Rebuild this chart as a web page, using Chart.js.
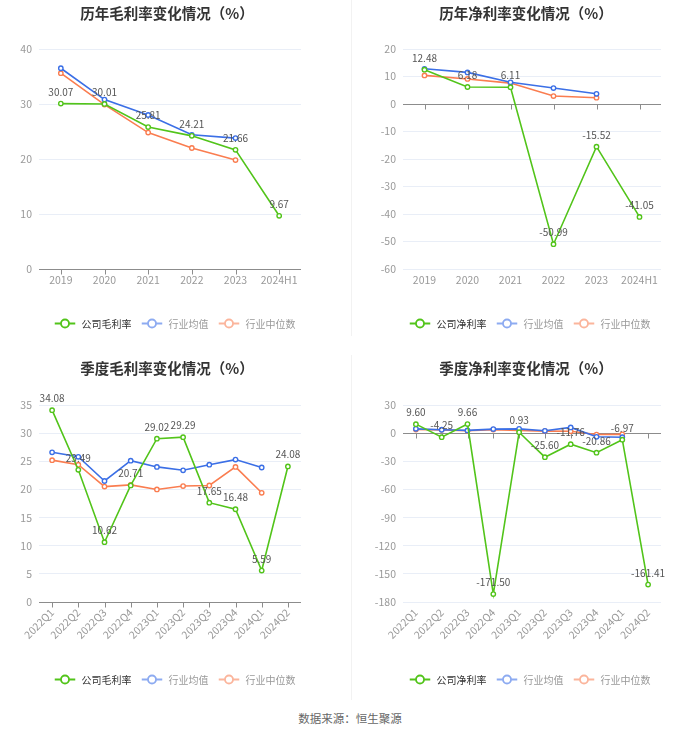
<!DOCTYPE html>
<html>
<head>
<meta charset="utf-8">
<script src="https://cdn.jsdelivr.net/npm/chart.js@4.4.1/dist/chart.umd.min.js"></script>
<style>
  body { margin: 0; background: #fff; font-family: "Noto Sans CJK SC", sans-serif; }
  #wrap { position: relative; width: 700px; height: 734px; }
  .panel { position: absolute; width: 350px; height: 350px; }
  .panel canvas { position: absolute; left: 0; top: 0; }
  .title { position: absolute; font-size: 14.5px; font-weight: bold; color: #333; white-space: nowrap; transform: translate(-50%, -50%); }
  .legend { position: absolute; display: flex; align-items: center; transform: translate(-50%, -50%); white-space: nowrap; font-size: 10px; }
  .legend span.item { display: flex; align-items: center; margin: 0 5px; }
  .legend svg { margin-right: 6px; }
  .divider { position: absolute; left: 351px; width: 1px; background: #f2f2f2; }
  #source { position: absolute; left: 350px; top: 718px; transform: translate(-50%, -50%); font-size: 11.5px; color: #666; white-space: nowrap; }
</style>
</head>
<body>
<div id="wrap">
  <div class="divider" style="top:0;height:336px"></div>
  <div class="divider" style="top:355px;height:345px"></div>

  <div class="panel" style="left:0;top:0"><canvas id="c1" width="350" height="350"></canvas></div>
  <div class="panel" style="left:350px;top:0"><canvas id="c2" width="350" height="350"></canvas></div>
  <div class="panel" style="left:0;top:350px"><canvas id="c3" width="350" height="350"></canvas></div>
  <div class="panel" style="left:350px;top:350px"><canvas id="c4" width="350" height="350"></canvas></div>

  <div class="title" style="left:167px;top:12px">历年毛利率变化情况（%）</div>
  <div class="title" style="left:526px;top:12px">历年净利率变化情况（%）</div>
  <div class="title" style="left:167px;top:367px">季度毛利率变化情况（%）</div>
  <div class="title" style="left:526px;top:367px">季度净利率变化情况（%）</div>

  <div class="legend" id="lg1" style="left:175px;top:323px"></div>
  <div class="legend" id="lg2" style="left:530px;top:323px"></div>
  <div class="legend" id="lg3" style="left:175px;top:679px"></div>
  <div class="legend" id="lg4" style="left:530px;top:679px"></div>

  <div id="source">数据来源：恒生聚源</div>
</div>

<script>
// 年度
var years = ['2019', '2020', '2021', '2022', '2023', '2024H1'];
var grossYear = [30.07, 30.01, 25.81, 24.21, 21.66, 9.67];
var grossYearAvg = [36.5, 30.8, 28.0, 24.4, 23.8, null];
var grossYearMedian = [35.6, 29.9, 24.8, 22.0, 19.8, null];

var netYear = [12.48, 6.18, 6.11, -50.99, -15.52, -41.05];
var netYearAvg = [12.8, 11.5, 7.9, 5.8, 3.7, null];
var netYearMedian = [10.4, 9.1, 7.6, 2.9, 2.3, null];

// 季度
var quarters = ['2022Q1', '2022Q2', '2022Q3', '2022Q4', '2023Q1', '2023Q2', '2023Q3', '2023Q4', '2024Q1', '2024Q2'];
var grossQuarter = [34.08, 23.49, 10.62, 20.71, 29.02, 29.29, 17.65, 16.48, 5.59, 24.08];
var grossQuarterAvg = [26.6, 25.8, 21.5, 25.1, 24.0, 23.4, 24.4, 25.3, 23.9, null];
var grossQuarterMedian = [25.2, 24.4, 20.5, 20.8, 20.0, 20.6, 20.7, 24.0, 19.4, null];

var netQuarter = [9.60, -4.25, 9.66, -171.50, 0.93, -25.60, -11.76, -20.86, -6.97, -161.41];
var netQuarterAvg = [4.6, 3.6, 2.9, 4.3, 4.6, 2.5, 6.1, -3.9, -4.3, null];
var netQuarterMedian = [3.9, 3.5, 2.5, 3.8, 2.9, 2.2, 2.0, -1.5, -1.3, null];

var GREEN = '#52c41a', BLUE = '#3b6fe6', ORANGE = '#fa7d50';
var FONT = '"Noto Sans CJK SC", sans-serif';

// x 轴线画在 0 处，带刻度
var zeroAxis = {
    id: 'zeroAxis',
    beforeDatasetsDraw: function(chart) {
        var ctx = chart.ctx, area = chart.chartArea;
        var y = Math.round(chart.scales.y.getPixelForValue(0)) + 0.5;
        var x = chart.scales.x;
        ctx.save();
        ctx.strokeStyle = '#8c8c8c';
        ctx.lineWidth = 1;
        ctx.beginPath();
        ctx.moveTo(area.left, y);
        ctx.lineTo(area.right, y);
        for (var i = 0; i < x.ticks.length; i++) {
            var px = Math.round(x.getPixelForTick(i)) + 0.5;
            ctx.moveTo(px, y);
            ctx.lineTo(px, y + 5);
        }
        ctx.stroke();
        ctx.restore();
    }
};

// 公司数值标签
var valueLabels = {
    id: 'valueLabels',
    afterDatasetsDraw: function(chart) {
        var ctx = chart.ctx;
        var meta = chart.getDatasetMeta(0);
        var data = chart.data.datasets[0].data;
        ctx.save();
        ctx.font = '10px ' + FONT;
        ctx.fillStyle = '#555';
        ctx.textAlign = 'center';
        ctx.textBaseline = 'alphabetic';
        meta.data.forEach(function(pt, i) {
            if (data[i] == null) return;
            ctx.fillText(data[i].toFixed(2), pt.x, pt.y - 8);
        });
        ctx.restore();
    }
};

function lineSet(label, data, color) {
    return {
        label: label,
        data: data,
        borderColor: color,
        backgroundColor: '#fff',
        borderWidth: 1.6,
        pointRadius: 2.2,
        pointBorderWidth: 1.4,
        pointBackgroundColor: '#fff',
        pointBorderColor: color,
        tension: 0,
        spanGaps: false
    };
}

function makeChart(id, labels, series, name, yMin, yMax, step, area, rotate) {
    return new Chart(document.getElementById(id), {
        type: 'line',
        data: {
            labels: labels,
            datasets: [
                lineSet(name, series[0], GREEN),
                lineSet('行业均值', series[1], BLUE),
                lineSet('行业中位数', series[2], ORANGE)
            ]
        },
        options: {
            responsive: false,
            animation: false,
            events: [],
            layout: { padding: { top: area.top, right: 350 - area.right, left: 0, bottom: 0 } },
            plugins: { legend: { display: false }, title: { display: false }, tooltip: { enabled: false } },
            scales: {
                x: {
                    offset: true,
                    grid: { display: false, drawTicks: false },
                    border: { display: false },
                    ticks: {
                        color: '#999',
                        font: { size: 10.5, family: FONT },
                        padding: rotate ? 4 : 5,
                        minRotation: rotate ? 45 : 0,
                        maxRotation: rotate ? 45 : 0,
                        autoSkip: false
                    },
                    afterFit: function(scale) {
                        scale.height = 350 - area.bottom;
                        scale.paddingLeft = 0;
                        scale.paddingRight = 0;
                    }
                },
                y: {
                    min: yMin,
                    max: yMax,
                    grid: {
                        drawTicks: false,
                        color: function(c) { return c.tick && c.tick.value === 0 ? 'rgba(0,0,0,0)' : '#e9eef7'; }
                    },
                    border: { display: false },
                    ticks: {
                        stepSize: step,
                        color: '#999',
                        padding: 7,
                        font: { size: 10.5, family: FONT }
                    },
                    afterFit: function(scale) {
                        scale.width = area.left;
                        scale.paddingTop = 0;
                        scale.paddingBottom = 0;
                    }
                }
            }
        },
        plugins: [zeroAxis, valueLabels]
    });
}

function icon(color) {
    return '<svg width="21" height="12"><line x1="0" y1="6" x2="21" y2="6" stroke="' + color + '" stroke-width="1.8"/>' +
        '<circle cx="10.5" cy="6" r="4" fill="#fff" stroke="' + color + '" stroke-width="1.8"/></svg>';
}

function makeLegend(id, name) {
    document.getElementById(id).innerHTML =
        '<span class="item" style="color:#333">' + icon(GREEN) + name + '</span>' +
        '<span class="item" style="color:#999">' + icon('#8dabf1') + '行业均值</span>' +
        '<span class="item" style="color:#999">' + icon('#fbb59c') + '行业中位数</span>';
}

makeChart('c1', years, [grossYear, grossYearAvg, grossYearMedian], '公司毛利率', 0, 40, 10,
    { left: 39, right: 301, top: 49, bottom: 269 }, false);
makeChart('c2', years, [netYear, netYearAvg, netYearMedian], '公司净利率', -60, 20, 10,
    { left: 53, right: 311, top: 49, bottom: 269 }, false);
makeChart('c3', quarters, [grossQuarter, grossQuarterAvg, grossQuarterMedian], '公司毛利率', 0, 35, 5,
    { left: 39, right: 301, top: 55, bottom: 252 }, true);
makeChart('c4', quarters, [netQuarter, netQuarterAvg, netQuarterMedian], '公司净利率', -180, 30, 30,
    { left: 53, right: 311, top: 55, bottom: 252 }, true);

makeLegend('lg1', '公司毛利率');
makeLegend('lg2', '公司净利率');
makeLegend('lg3', '公司毛利率');
makeLegend('lg4', '公司净利率');
</script>
</body>
</html>
